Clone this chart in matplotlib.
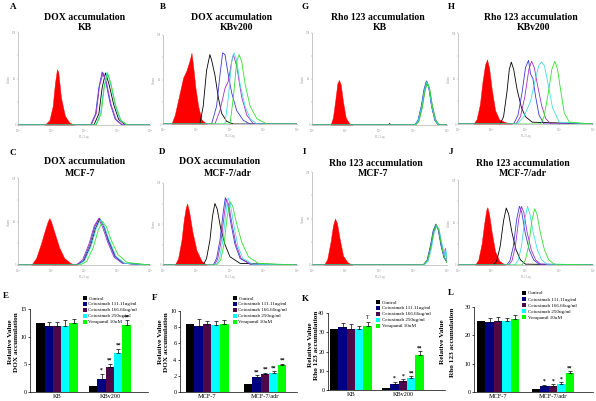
import matplotlib
matplotlib.use("Agg")
import matplotlib.pyplot as plt

plt.rcParams['font.family'] = ['Liberation Serif', 'DejaVu Serif']

W, H = 596, 401

# ---- flow cytometry histograms (x in log decades, y in % of axis height) ----
line_colors = ['#000000', '#3a3ad0', '#a030c0', '#40e0e0', '#30e030']

A_red = ([0.8, 0.95, 1.05, 1.12, 1.18, 1.22, 1.3, 1.42, 1.55, 1.7],
         [0, 5, 20, 45, 60, 57, 30, 10, 3, 0])
A_lines = [
    ([0, 2.3, 2.45, 2.55, 2.65, 2.75, 2.9, 3.05, 3.25, 4], [0, 0, 12, 40, 56, 45, 22, 6, 0, 0]),
    ([0, 2.2, 2.35, 2.45, 2.55, 2.65, 2.8, 2.95, 3.15, 4], [0, 0, 12, 40, 57, 48, 22, 6, 0, 0]),
    ([0, 2.22, 2.37, 2.47, 2.58, 2.68, 2.82, 2.97, 3.17, 4], [0, 0, 12, 42, 56, 46, 22, 6, 0, 0]),
    ([0, 2.35, 2.5, 2.6, 2.7, 2.8, 2.95, 3.1, 3.3, 4], [0, 0, 12, 40, 57, 45, 20, 5, 0, 0]),
    ([0, 2.37, 2.52, 2.62, 2.72, 2.82, 2.97, 3.12, 3.32, 4], [0, 0, 12, 42, 55, 44, 20, 5, 0, 0]),
]

B_red = ([0.25, 0.35, 0.5, 0.6, 0.7, 0.8, 0.85, 0.9, 0.97, 1.05, 1.15, 1.3],
         [0, 10, 35, 52, 60, 72, 80, 65, 40, 20, 5, 0])
B_lines = [
    ([0, 1.1, 1.2, 1.3, 1.4, 1.45, 1.55, 1.65, 1.75, 1.9, 2.1, 4], [0, 0, 20, 60, 78, 72, 55, 30, 12, 3, 0, 0]),
    ([0, 1.45, 1.6, 1.7, 1.78, 1.85, 1.95, 2.05, 2.2, 2.4, 2.6, 4], [0, 0, 20, 55, 80, 78, 55, 35, 15, 4, 0, 0]),
    ([0, 1.55, 1.7, 1.85, 1.95, 2.05, 2.1, 2.2, 2.35, 2.5, 2.7, 4], [0, 0, 15, 40, 48, 70, 78, 65, 30, 10, 0, 0]),
    ([0, 1.85, 1.95, 2.05, 2.12, 2.2, 2.3, 2.45, 2.6, 2.8, 4], [0, 0, 30, 70, 80, 72, 45, 20, 6, 0, 0]),
    ([0, 2.0, 2.1, 2.2, 2.27, 2.35, 2.45, 2.6, 2.8, 3.1, 4], [0, 0, 30, 70, 78, 70, 45, 20, 6, 0, 0]),
]

C_red = ([0.4, 0.55, 0.7, 0.8, 0.9, 0.95, 1.0, 1.1, 1.25, 1.4, 1.6, 1.8],
         [0, 8, 25, 38, 50, 54, 50, 38, 20, 8, 2, 0])
C_lines = [
    ([0, 1.8, 2.0, 2.2, 2.35, 2.48, 2.6, 2.75, 2.95, 3.2, 4], [0, 0, 5, 22, 42, 53, 45, 28, 10, 2, 0]),
    ([0, 1.78, 1.98, 2.18, 2.33, 2.46, 2.58, 2.73, 2.93, 3.18, 4], [0, 0, 5, 24, 44, 54, 46, 28, 10, 2, 0]),
    ([0, 1.76, 1.96, 2.16, 2.31, 2.44, 2.56, 2.71, 2.91, 3.16, 4], [0, 0, 6, 25, 45, 53, 44, 27, 9, 2, 0]),
    ([0, 1.82, 2.02, 2.22, 2.37, 2.5, 2.62, 2.77, 2.97, 3.22, 4], [0, 0, 5, 22, 42, 52, 44, 28, 10, 2, 0]),
    ([0, 1.88, 2.08, 2.28, 2.43, 2.56, 2.68, 2.83, 3.03, 3.3, 4], [0, 0, 4, 20, 40, 50, 44, 28, 12, 3, 0]),
]

D_red = ([0.35, 0.45, 0.55, 0.62, 0.68, 0.72, 0.78, 0.88, 1.0, 1.15, 1.3],
         [0, 8, 30, 55, 70, 75, 65, 40, 18, 5, 0])
D_lines = [
    ([0, 1.2, 1.3, 1.4, 1.48, 1.55, 1.62, 1.72, 1.85, 2.0, 2.3, 4], [0, 0, 8, 30, 60, 75, 68, 45, 25, 10, 2, 0]),
    ([0, 1.5, 1.6, 1.7, 1.8, 1.86, 1.93, 2.03, 2.15, 2.3, 2.6, 4], [0, 0, 8, 30, 65, 82, 75, 50, 25, 8, 1, 0]),
    ([0, 1.53, 1.63, 1.73, 1.83, 1.89, 1.96, 2.06, 2.18, 2.33, 2.63, 4], [0, 0, 7, 28, 62, 80, 74, 50, 25, 8, 1, 0]),
    ([0, 1.58, 1.68, 1.78, 1.88, 1.94, 2.01, 2.11, 2.23, 2.38, 2.68, 4], [0, 0, 7, 28, 64, 82, 75, 50, 24, 8, 1, 0]),
    ([0, 1.6, 1.72, 1.82, 1.92, 2.0, 2.08, 2.2, 2.35, 2.55, 2.85, 4], [0, 0, 6, 25, 60, 77, 72, 50, 28, 10, 2, 0]),
]

G_red = ([0.55, 0.62, 0.7, 0.75, 0.8, 0.85, 0.92, 1.0, 1.1, 1.2],
         [0, 8, 30, 45, 49, 44, 25, 8, 2, 0])
G_lines = [
    ([0, 2.25, 2.3, 2.35, 3.05, 3.15, 3.25, 3.33, 3.4, 3.47, 3.55, 3.65, 3.75, 4],
     [0, 0, 1.5, 0, 0, 5, 20, 38, 47, 40, 20, 5, 0, 0]),
    ([0, 3.04, 3.14, 3.24, 3.32, 3.39, 3.46, 3.54, 3.64, 3.74, 4], [0, 0, 5, 21, 39, 48, 41, 21, 5, 0, 0]),
    ([0, 3.06, 3.16, 3.26, 3.34, 3.41, 3.48, 3.56, 3.66, 3.76, 4], [0, 0, 4, 19, 37, 46, 40, 22, 6, 0, 0]),
    ([0, 3.05, 3.15, 3.25, 3.33, 3.4, 3.47, 3.55, 3.65, 3.75, 4], [0, 0, 5, 20, 38, 47, 40, 20, 5, 0, 0]),
    ([0, 3.07, 3.17, 3.27, 3.35, 3.42, 3.49, 3.57, 3.67, 3.77, 4], [0, 0, 4, 19, 37, 46, 39, 20, 5, 0, 0]),
]

H_red = ([0.45, 0.55, 0.65, 0.72, 0.8, 0.86, 0.92, 1.0, 1.1, 1.22, 1.4, 1.6],
         [0, 5, 22, 45, 65, 71, 62, 38, 15, 5, 2, 0])
H_lines = [
    ([0, 1.25, 1.35, 1.45, 1.52, 1.58, 1.65, 1.75, 1.88, 2.0, 2.2, 4], [0, 0, 8, 35, 60, 68, 60, 38, 18, 8, 2, 0]),
    ([0, 1.65, 1.78, 1.9, 2.0, 2.09, 2.15, 2.22, 2.3, 2.4, 2.55, 4], [0, 0, 10, 35, 62, 70, 55, 50, 30, 10, 0, 0]),
    ([0, 1.72, 1.85, 1.98, 2.1, 2.18, 2.26, 2.36, 2.48, 2.6, 2.75, 4], [0, 0, 8, 30, 60, 69, 62, 42, 20, 6, 0, 0]),
    ([0, 1.75, 1.95, 2.15, 2.3, 2.4, 2.48, 2.56, 2.68, 2.8, 3.0, 4], [0, 0, 8, 25, 50, 65, 68, 64, 42, 18, 2, 0]),
    ([0, 2.45, 2.55, 2.68, 2.78, 2.87, 2.95, 3.05, 3.15, 3.3, 4], [0, 0, 8, 35, 60, 69, 60, 35, 12, 2, 0]),
]

I_red = ([0.35, 0.45, 0.55, 0.62, 0.68, 0.74, 0.82, 0.92, 1.05, 1.2],
         [0, 6, 25, 42, 50, 45, 28, 10, 3, 0])
I_lines = [
    ([0, 3.3, 3.42, 3.52, 3.6, 3.68, 3.75, 3.83, 3.92, 4], [0, 0, 5, 20, 36, 43, 38, 22, 8, 3]),
    ([0, 3.29, 3.41, 3.51, 3.59, 3.67, 3.74, 3.82, 3.91, 4], [0, 0, 5, 21, 37, 44, 38, 21, 8, 3]),
    ([0, 3.31, 3.43, 3.53, 3.61, 3.69, 3.76, 3.84, 3.92, 3.95, 3.97, 4], [0, 0, 5, 20, 35, 42, 37, 22, 9, 18, 10, 4]),
    ([0, 3.32, 3.44, 3.54, 3.62, 3.7, 3.77, 3.85, 3.93, 3.97, 4], [0, 0, 4, 18, 35, 42, 38, 23, 10, 16, 5]),
    ([0, 3.3, 3.42, 3.52, 3.6, 3.68, 3.75, 3.83, 3.92, 4], [0, 0, 5, 20, 36, 43, 38, 22, 8, 3]),
]

J_red = ([0.5, 0.6, 0.7, 0.78, 0.84, 0.87, 0.92, 1.0, 1.1, 1.22, 1.4],
         [0, 6, 25, 50, 65, 68, 60, 38, 16, 5, 0])
J_lines = [
    ([0, 1.05, 1.15, 1.25, 1.35, 1.43, 1.5, 1.6, 1.72, 1.85, 2.0, 4], [0, 0, 5, 22, 52, 67, 60, 38, 18, 6, 1, 0]),
    ([0, 1.44, 1.54, 1.64, 1.74, 1.82, 1.89, 1.99, 2.11, 2.24, 2.4, 4], [0, 0, 5, 22, 54, 69, 62, 38, 18, 6, 1, 0]),
    ([0, 1.5, 1.6, 1.7, 1.8, 1.88, 1.95, 2.05, 2.17, 2.3, 2.45, 4], [0, 0, 5, 22, 54, 69, 62, 38, 18, 6, 1, 0]),
    ([0, 1.68, 1.78, 1.88, 1.98, 2.06, 2.13, 2.23, 2.35, 2.48, 2.63, 4], [0, 0, 5, 22, 54, 69, 60, 38, 18, 6, 1, 0]),
    ([0, 1.89, 1.99, 2.09, 2.19, 2.27, 2.34, 2.44, 2.56, 2.69, 2.85, 4], [0, 0, 5, 22, 52, 66, 60, 38, 18, 6, 1, 0]),
]

# ---- bar charts ----
legend_labels = ['Control', 'Cetuximab 111.11ug/ml', 'Cetuximab 166.66ug/ml',
                 'Cetuximab 250ug/ml', 'Verapamil 10uM']
bar_colors = ['#000000', '#000080', '#4e0a48', '#00ffff', '#00ff00']

E_groups = ['KB', 'KBv200']
E_vals = [[12.5, 12.0, 12.0, 11.9, 12.4], [1.0, 2.4, 4.5, 7.0, 12.1]]
E_errs = [[0.0, 0.7, 0.7, 1.2, 0.8], [0.0, 0.9, 0.6, 0.8, 0.9]]
E_marks = ['', '*', '**', '**', '**']

F_groups = ['MCF-7', 'MCF-7/adr']
F_vals = [[8.4, 8.2, 8.4, 8.3, 8.4], [1.0, 1.9, 2.2, 2.4, 3.3]]
F_errs = [[0.0, 0.8, 0.4, 0.5, 0.5], [0.0, 0.2, 0.2, 0.2, 0.2]]
F_marks = ['', '**', '**', '**', '**']

K_groups = ['KB', 'KBv200']
K_vals = [[31.8, 32.5, 31.8, 31.5, 33.2], [1.0, 3.3, 4.5, 6.0, 18.2]]
K_errs = [[0.0, 2.2, 2.5, 2.0, 2.0], [0.0, 1.0, 1.2, 1.2, 2.0]]
K_marks = ['', '*', '*', '**', '**']

L_groups = ['MCF-7', 'MCF-7/adr']
L_vals = [[25.0, 24.8, 25.2, 25.0, 25.7], [1.0, 2.0, 2.2, 2.8, 6.8]]
L_errs = [[0.0, 1.3, 1.2, 1.2, 1.4], [0.0, 0.5, 0.5, 0.6, 0.5]]
L_marks = ['', '*', '*', '*', '**']


def px_rect(left, right, top, bottom):
    return [left / W, 1 - bottom / H, (right - left) / W, (bottom - top) / H]


def ftext(x, y, s, **kw):
    fig.text(x / W, 1 - y / H, s, **kw)


def hist_panel(rect, red, lines):
    ax = fig.add_axes(rect)
    ax.fill_between(red[0], red[1], color='#ff0000', lw=0.3)
    for (x, y), c in zip(lines, line_colors):
        ax.plot(x, y, color=c, lw=0.6)
    ax.set_xlim(0, 4)
    ax.set_ylim(0, 100)
    for s in ['top', 'right']:
        ax.spines[s].set_visible(False)
    for s in ['left', 'bottom']:
        ax.spines[s].set_color('#b0b0b0')
        ax.spines[s].set_linewidth(0.5)
    ax.set_xticks([0, 1, 2, 3, 4])
    ax.set_xticklabels(['$10^0$', '$10^1$', '$10^2$', '$10^3$', '$10^4$'])
    ax.set_yticks([0, 25, 50, 75, 100])
    ax.set_yticklabels(['0', '', '64', '', '128'])
    ax.tick_params(length=1, width=0.3, labelsize=2, pad=0.5, colors='#999999')
    ax.set_xlabel('FL2 Log', fontsize=2, color='#999999', labelpad=0.5)
    ax.set_ylabel('Counts', fontsize=2, color='#999999', labelpad=0.5)
    return ax


def bar_panel(rect, xlim, width, groups, vals, errs, marks, ylim, yticks, legend_xy):
    ax = fig.add_axes(rect)
    handles = []
    for i in range(5):
        xs = [g + (i - 2) * width for g in range(2)]
        hs = [vals[0][i], vals[1][i]]
        es = [errs[0][i], errs[1][i]]
        b = ax.bar(xs, hs, width, color=bar_colors[i], lw=0)
        ax.errorbar(xs, hs, yerr=[[0, 0], es], fmt='none', ecolor='black',
                    elinewidth=0.5, capsize=1.5, capthick=0.5)
        handles.append(b)
        if marks[i]:
            ax.text(xs[1], hs[1] + es[1] + ylim * 0.01, marks[i], ha='center',
                    va='bottom', fontsize=4, fontweight='bold')
    ax.set_xlim(*xlim)
    ax.set_ylim(0, ylim)
    ax.set_xticks([0, 1])
    ax.set_xticklabels(groups)
    ax.set_yticks(yticks)
    ax.tick_params(axis='x', length=0, labelsize=4.5, pad=1.5)
    ax.tick_params(axis='y', length=1.5, width=0.5, labelsize=4.5, pad=1)
    for s in ['top', 'right']:
        ax.spines[s].set_visible(False)
    for s in ['left', 'bottom']:
        ax.spines[s].set_linewidth(0.5)
    ax.legend(handles, legend_labels, loc='upper left',
              bbox_to_anchor=(legend_xy[0] / W, 1 - legend_xy[1] / H),
              bbox_transform=fig.transFigure, fontsize=3.6, frameon=False,
              handlelength=0.7, handleheight=0.7, handletextpad=0.4,
              labelspacing=0.3, borderpad=0, borderaxespad=0)
    return ax


fig = plt.figure(figsize=(W / 100, H / 100), dpi=100)

hist_panel(px_rect(18, 150, 32, 125), A_red, A_lines)
hist_panel(px_rect(163, 297, 35, 124), B_red, B_lines)
hist_panel(px_rect(312, 447, 33, 125), G_red, G_lines)
hist_panel(px_rect(458, 593, 33, 124), H_red, H_lines)
hist_panel(px_rect(18, 150, 178, 265), C_red, C_lines)
hist_panel(px_rect(163, 297, 183, 265), D_red, D_lines)
hist_panel(px_rect(312, 447, 172, 265), I_red, I_lines)
hist_panel(px_rect(458, 593, 180, 265), J_red, J_lines)

bar_panel(px_rect(30, 148, 309, 392), (-0.51, 1.72), 0.157, E_groups, E_vals, E_errs, E_marks,
          15, [0, 5, 10, 15], (83, 296))
bar_panel(px_rect(180, 297, 311, 392), (-0.47, 1.55), 0.147, F_groups, F_vals, F_errs, F_marks,
          10, [0, 2, 4, 6, 8, 10], (233, 296))
axK = bar_panel(px_rect(328, 445, 313, 390), (-0.44, 1.81), 0.16, K_groups, K_vals, K_errs, K_marks,
                40, [0, 10, 20, 30, 40], (376, 300))
axK.text(2 * 0.16, 37.5, 'T', ha='center', va='center', fontsize=4)
bar_panel(px_rect(474, 593, 307, 392), (-0.44, 1.73), 0.155, L_groups, L_vals, L_errs, L_marks,
          30, [0, 10, 20, 30], (522, 291))

# titles
tkw = dict(ha='center', va='center', fontsize=7, fontweight='bold')
ftext(85, 18, 'DOX accumulation', **tkw)
ftext(85, 27, 'KB', **tkw)
ftext(232, 18, 'DOX accumulation', **tkw)
ftext(237, 27, 'KBv200', **tkw)
ftext(378, 18, 'Rho 123 accumulation', **tkw)
ftext(380, 28, 'KB', **tkw)
ftext(531, 18, 'Rho 123 accumulation', **tkw)
ftext(534, 28, 'KBv200', **tkw)
ftext(85, 162, 'DOX accumulation', **tkw)
ftext(80, 173, 'MCF-7', **tkw)
ftext(220, 162, 'DOX accumulation', **tkw)
ftext(228, 173, 'MCF-7/adr', **tkw)
ftext(376, 163, 'Rho 123 accumulation', **tkw)
ftext(373, 173, 'MCF-7', **tkw)
ftext(523, 163, 'Rho 123 accumulation', **tkw)
ftext(523, 173, 'MCF-7/adr', **tkw)

# panel letters
lkw = dict(ha='center', va='center', fontsize=6.5, fontweight='bold')
for letter, x, y in [('A', 13, 7), ('B', 163, 7), ('G', 305, 7), ('H', 451, 7),
                     ('C', 13, 153), ('D', 162, 152), ('I', 304, 152), ('J', 451, 152),
                     ('E', 6, 296), ('F', 155, 298), ('K', 305, 299), ('L', 451, 293)]:
    ftext(x, y, letter, **lkw)

# bar chart y labels
ykw = dict(ha='center', va='center', fontsize=5.2, fontweight='bold', rotation=90)
for x1, x2, yc, second in [(11, 17, 342, 'DOX accumulation'), (160, 166, 342, 'DOX accumulation'),
                           (310, 316, 345, 'Rho 123 accumulation'), (443, 453, 342, 'Rho 123 accumulation')]:
    ftext(x1, yc, 'Relative Value', **ykw)
    ftext(x2, yc, second, **ykw)

fig.savefig('out.png', dpi=100)
